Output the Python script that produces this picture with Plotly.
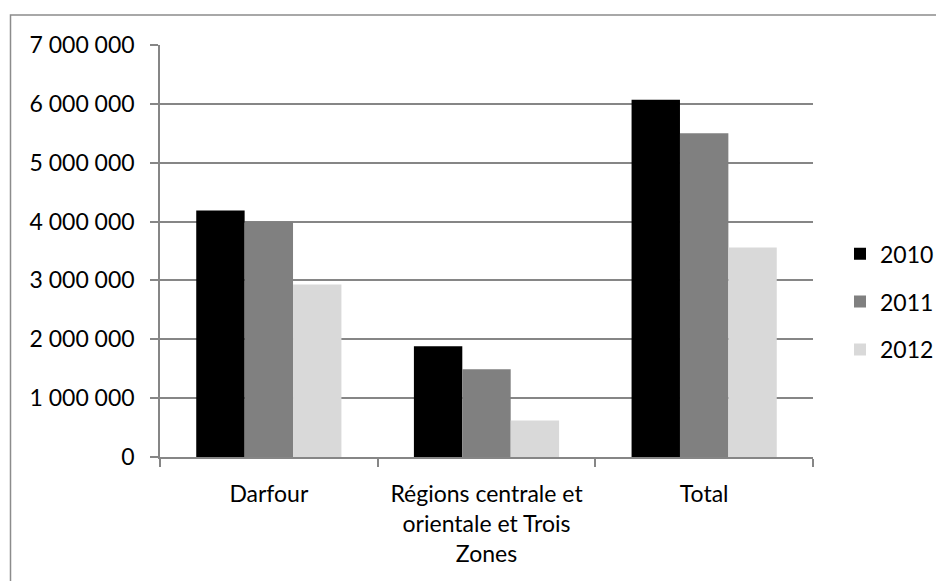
import plotly.graph_objects as go

categories = ["Darfour", "Régions centrale et<br>orientale et Trois<br>Zones", "Total"]
years = ["2010", "2011", "2012"]
values_2010 = [4190000, 1880000, 6070000]
values_2011 = [4000000, 1490000, 5500000]
values_2012 = [2930000, 620000, 3560000]
colors = ["#000000", "#808080", "#d9d9d9"]

series = [values_2010, values_2011, values_2012]

FONT = "Lato, Carlito, Calibri, sans-serif"

fig = go.Figure()
for i, (name, vals) in enumerate(zip(years, series)):
    fig.add_trace(go.Bar(
        x=categories, y=vals, name=name,
        marker=dict(color=colors[i], line=dict(width=0)),
        legendgroup=name,
    ))

# page body has an 8px margin; work in window pixels and offset
OFF = 8
W, H = 944 - OFF, 581 - OFF
L = 160 - OFF
T = 45 - OFF
R = W - (813 - OFF)
B = H - (457.5 - OFF)
pw = W - L - R
ph = H - T - B

def px_x(px):
    return (px - OFF - L) / pw

def px_y(py):
    return (H - B - (py - OFF)) / ph

fig.update_layout(
    width=W, height=H,
    margin=dict(l=L, r=R, t=T, b=B, pad=0, autoexpand=False),
    paper_bgcolor="white", plot_bgcolor="white",
    barmode="group", bargap=0.333, bargroupgap=0,
    separators=", ",
    font=dict(family=FONT, size=23, color="#000000"),
    showlegend=True,
    legend=dict(
        x=px_x(840), y=px_y(302), xanchor="left", yanchor="middle",
        font=dict(family=FONT, size=23, color="#000000"),
        tracegroupgap=15, traceorder="grouped",
        bgcolor="rgba(0,0,0,0)", itemwidth=30,
    ),
    xaxis=dict(
        showgrid=False, showline=True, linecolor="#868686", linewidth=1.5,
        ticks="outside", tickson="boundaries", ticklen=8, tickcolor="#868686",
        tickwidth=1.5, ticklabelstandoff=16, automargin=False,
        tickfont=dict(family=FONT, size=23, color="#000000"),
    ),
    yaxis=dict(
        range=[0, 7000000], tickmode="linear", tick0=0, dtick=1000000,
        tickformat=",d",
        showgrid=True, gridcolor="#868686", gridwidth=1.5,
        showline=True, linecolor="#868686", linewidth=1.5,
        ticks="outside", ticklen=8, tickcolor="#868686", tickwidth=1.5,
        ticklabelstandoff=11, zeroline=False, automargin=False,
        tickfont=dict(family=FONT, size=23, color="#000000"),
    ),
)

# outer chart frame (extends past the right and bottom edges of the image)
fig.add_shape(type="rect", xref="paper", yref="paper",
              x0=px_x(10.5), x1=px_x(960), y0=px_y(600), y1=px_y(15),
              line=dict(color="#8c8c8c", width=1.5), fillcolor="rgba(0,0,0,0)",
              layer="below")

fig.write_html("out.html")
